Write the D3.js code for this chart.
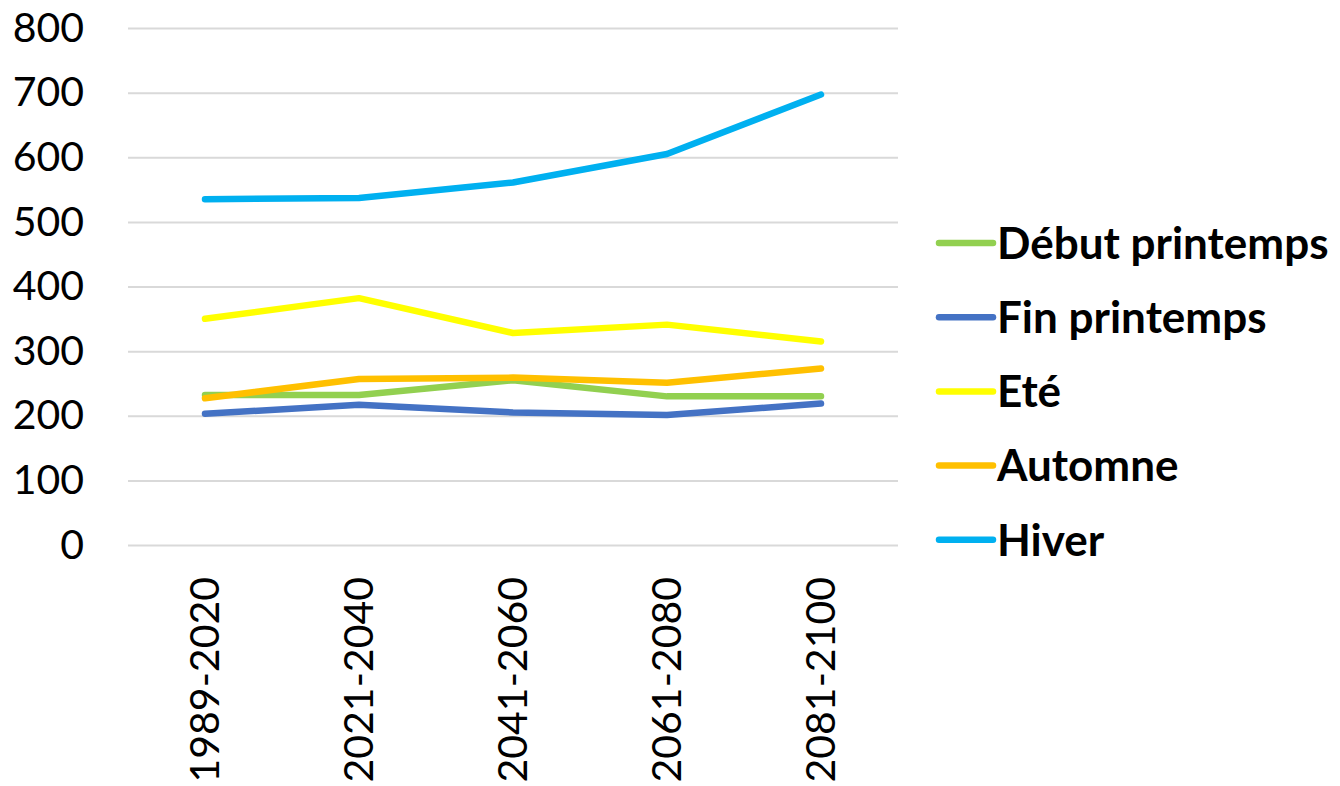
<!DOCTYPE html>
<html>
<head>
<meta charset="utf-8">
<script src="https://cdn.jsdelivr.net/npm/d3@7"></script>
<style>
  body { margin: 0; background: #fff; }
  .grid line { stroke: #d9d9d9; stroke-width: 2; }
  .tick text { font-family: Lato, "Open Sans", sans-serif; fill: #000; }
  .series { fill: none; stroke-width: 6.5; stroke-linecap: round; stroke-linejoin: round; }
  .legend text { font-family: Lato, "Open Sans", sans-serif; font-weight: bold; font-size: 44px; }
</style>
</head>
<body>
<div id="chart"></div>
<script>
// periods on the x axis
const periods = ["1989-2020", "2021-2040", "2041-2060", "2061-2080", "2081-2100"];

// one array per season
const debutPrintemps = [232, 232, 255, 230, 230];
const finPrintemps   = [203, 217, 205, 201, 219];
const ete            = [350, 382, 328, 341, 315];
const automne        = [227, 257, 259, 251, 273];
const hiver          = [535, 537, 561, 605, 697];

const seriesNames  = ["Début printemps", "Fin printemps", "Eté", "Automne", "Hiver"];
const seriesValues = [debutPrintemps, finPrintemps, ete, automne, hiver];
const seriesColors = ["#92D050", "#4472C4", "#FFFF00", "#FFC000", "#00B0F0"];

const yTicks = [0, 100, 200, 300, 400, 500, 600, 700, 800];

let config = {
    width: 1340,
    height: 786,
    plot: { left: 128, right: 898, top: 28, bottom: 545 }
};

const svg = d3.select("#chart").append("svg")
    .attr("width", config.width)
    .attr("height", config.height);

const x = d3.scaleBand()
    .domain(periods)
    .range([config.plot.left, config.plot.right]);

const y = d3.scaleLinear()
    .domain([0, 800])
    .range([config.plot.bottom, config.plot.top]);

// Y axis + gridlines
const yAxis = svg.append("g")
    .attr("class", "grid")
    .attr("transform", "translate(" + config.plot.left + ",0)")
    .call(d3.axisLeft(y)
        .tickValues(yTicks)
        .tickSize(-(config.plot.right - config.plot.left))
        .tickPadding(44));
yAxis.select(".domain").remove();
yAxis.selectAll(".tick text").attr("font-size", 41);

// X axis labels, rotated
const xAxis = svg.append("g")
    .attr("transform", "translate(0," + config.plot.bottom + ")")
    .call(d3.axisBottom(x).tickSize(0).tickPadding(0));
xAxis.select(".domain").remove();
xAxis.selectAll(".tick text")
    .attr("font-size", 41)
    .attr("text-anchor", "end")
    .attr("transform", "translate(0,32) rotate(-90)")
    .attr("x", 0)
    .attr("y", 0)
    .attr("dy", "0.35em");

// lines
const line = d3.line()
    .x((d, i) => x(periods[i]) + x.bandwidth() / 2)
    .y(d => y(d));

svg.append("g").selectAll("path")
  .data(seriesValues)
  .join("path")
    .attr("class", "series")
    .attr("stroke", (d, i) => seriesColors[i])
    .attr("d", line);

// legend
const legend = svg.append("g").attr("class", "legend");
const items = legend.selectAll("g")
  .data(seriesNames)
  .join("g")
    .attr("transform", (d, i) => "translate(937," + (243 + i * 74.2) + ")");
items.append("line")
    .attr("x1", 2).attr("x2", 56)
    .attr("stroke", (d, i) => seriesColors[i])
    .attr("stroke-width", 6.5)
    .attr("stroke-linecap", "round");
items.append("text")
    .attr("x", 60)
    .attr("dy", "0.36em")
    .text(d => d);
</script>
</body>
</html>
